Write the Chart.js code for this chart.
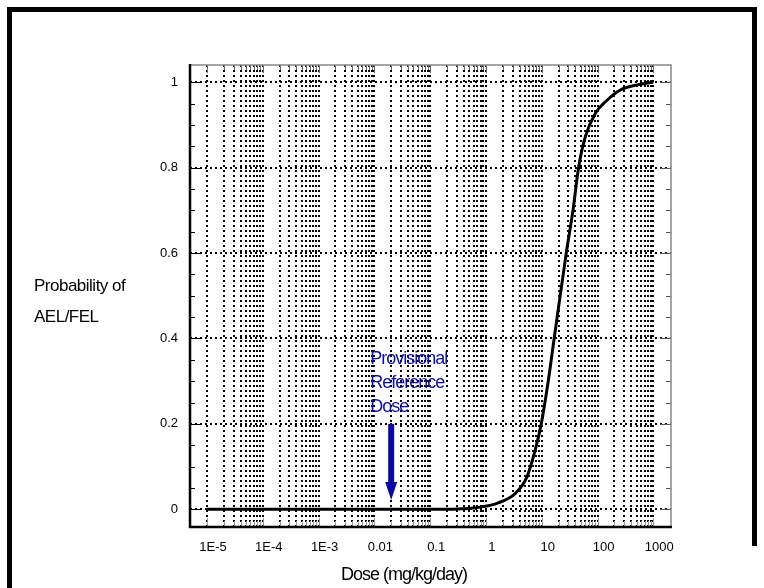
<!DOCTYPE html>
<html lang="en">
<head>
<meta charset="UTF-8">
<title>Probability of AEL/FEL vs Dose</title>
<script src="https://cdn.jsdelivr.net/npm/chart.js@4"></script>
<style>
  html, body { margin: 0; padding: 0; background: #fff; }
  canvas { display: block; }
</style>
</head>
<body>
<canvas id="doseChart" width="764" height="588"></canvas>
<script>
// dose-response curve
const doses = [1e-5, 1e-3, 0.1, 0.5, 0.79, 1.57, 3.35, 5.43, 7.64, 9.8, 12.9, 16.7, 27.5, 36.3, 45.7, 60.3, 91, 148, 257, 513, 1000];
const probs = [0, 0, 0, 0.002, 0.005, 0.014, 0.037, 0.076, 0.139, 0.2, 0.295, 0.4, 0.6, 0.7, 0.8, 0.872, 0.927, 0.958, 0.982, 0.994, 1.0];

// axes
const decadeValues = [1e-5, 1e-4, 1e-3, 0.01, 0.1, 1, 10, 100, 1000];
const decadeLabels = ['1E-5', '1E-4', '1E-3', '0.01', '0.1', '1', '10', '100', '1000'];
const yTicks = [0, 0.2, 0.4, 0.6, 0.8, 1];
const yTickLabels = ['0', '0.2', '0.4', '0.6', '0.8', '1'];
const yMinorTicks = [0.05, 0.1, 0.15, 0.25, 0.3, 0.35, 0.45, 0.5, 0.55, 0.65, 0.7, 0.75, 0.85, 0.9, 0.95];

// provisional reference dose marker
const rfdDose = 0.02;
const rfdArrowTop = 0.2;
const rfdArrowHead = 0.064;
const rfdArrowTip = 0.022;
const rfdText = ['Provisional', 'Reference', 'Dose'];

const FONT = '"Liberation Sans", Arial, sans-serif';

// grid lines at 1..9 of every decade
const xGridValues = [];
for (let k = 0; k < decadeValues.length; k++) {
    const d = decadeValues[k];
    xGridValues.push(d);
    if (k < decadeValues.length - 1) {
        for (let m = 2; m <= 9; m++) xGridValues.push(m * d);
    }
}

function isDecade(v) {
    return decadeValues.findIndex(d => Math.abs(Math.log10(v) - Math.log10(d)) < 1e-6);
}

const decorations = {
    id: 'decorations',
    afterDraw(chart) {
        const { ctx, chartArea: a, scales: { x, y } } = chart;
        ctx.save();

        // inward tick marks
        ctx.lineWidth = 1;
        xGridValues.forEach(v => {
            const px = Math.round(x.getPixelForValue(v)) + 0.5;
            const major = isDecade(v) >= 0;
            ctx.strokeStyle = '#666';
            ctx.beginPath();
            ctx.moveTo(px, a.top);
            ctx.lineTo(px, a.top + (major ? 8 : 5));
            ctx.stroke();
            ctx.strokeStyle = '#999';
            ctx.beginPath();
            ctx.moveTo(px, a.bottom);
            ctx.lineTo(px, a.bottom - (major ? 9 : 6));
            ctx.stroke();
        });
        yTicks.concat(yMinorTicks).forEach(v => {
            const py = Math.round(y.getPixelForValue(v)) + 0.5;
            const major = yTicks.includes(v);
            ctx.strokeStyle = '#000';
            ctx.beginPath();
            ctx.moveTo(a.left, py);
            ctx.lineTo(a.left + (major ? 10 : 5), py);
            ctx.stroke();
            ctx.strokeStyle = '#555';
            ctx.beginPath();
            ctx.moveTo(a.right, py);
            ctx.lineTo(a.right - (major ? 11 : 5), py);
            ctx.stroke();
        });

        // plot frame: thin grey top/right, heavy black left/bottom
        ctx.strokeStyle = '#888';
        ctx.lineWidth = 1.5;
        ctx.beginPath();
        ctx.moveTo(a.left, a.top);
        ctx.lineTo(a.right, a.top);
        ctx.lineTo(a.right, a.bottom);
        ctx.stroke();
        ctx.strokeStyle = '#000';
        ctx.lineWidth = 2.5;
        ctx.beginPath();
        ctx.moveTo(a.left, a.top - 1);
        ctx.lineTo(a.left, a.bottom);
        ctx.lineTo(a.right + 1, a.bottom);
        ctx.stroke();

        // arrow
        const ax = x.getPixelForValue(rfdDose);
        const yTop = y.getPixelForValue(rfdArrowTop);
        const yHead = y.getPixelForValue(rfdArrowHead);
        const yTip = y.getPixelForValue(rfdArrowTip);
        ctx.fillStyle = '#0a0aa0';
        ctx.fillRect(ax - 3, yTop, 6, yHead - yTop);
        ctx.beginPath();
        ctx.moveTo(ax - 6, yHead);
        ctx.lineTo(ax + 6, yHead);
        ctx.lineTo(ax, yTip);
        ctx.closePath();
        ctx.fill();

        ctx.fillStyle = '#0c0cb4';
        ctx.font = '18px ' + FONT;
        ctx.letterSpacing = '-1px';
        ctx.textAlign = 'left';
        ctx.textBaseline = 'alphabetic';
        rfdText.forEach((t, i) => ctx.fillText(t, ax - 21, yTop - 60 + i * 24));

        // axis titles
        ctx.fillStyle = '#000';
        ctx.font = '17px ' + FONT;
        ctx.letterSpacing = '-0.5px';
        ctx.fillText('Probability of', 34, 291);
        ctx.fillText('AEL/FEL', 34, 322);

        ctx.font = '18px ' + FONT;
        ctx.letterSpacing = '-1px';
        ctx.textAlign = 'center';
        ctx.fillText('Dose (mg/kg/day)', 404, 580);

        // outer border of the figure
        ctx.letterSpacing = '0px';
        ctx.fillStyle = '#000';
        ctx.fillRect(7, 7, 5, 581);
        ctx.fillRect(7, 7, 750, 5);
        ctx.fillRect(752, 7, 5, 539);

        ctx.restore();
    }
};

const ctx = document.getElementById('doseChart').getContext('2d');
const doseChart = new Chart(ctx, {
    type: 'line',
    data: {
        datasets: [{
            data: doses.map((d, i) => ({ x: d, y: probs[i] })),
            borderColor: '#000',
            borderWidth: 3,
            pointRadius: 0,
            cubicInterpolationMode: 'monotone',
            fill: false
        }]
    },
    options: {
        responsive: false,
        animation: false,
        devicePixelRatio: 1,
        layout: { padding: { left: 0, top: 65, right: 93, bottom: 0 } },
        plugins: {
            legend: { display: false },
            tooltip: { enabled: false }
        },
        scales: {
            x: {
                type: 'logarithmic',
                min: 4.95e-6,
                max: 2075,
                afterBuildTicks: s => { s.ticks = xGridValues.map(v => ({ value: v })); },
                afterFit: s => { s.height = 61; },
                ticks: {
                    autoSkip: false,
                    maxRotation: 0,
                    padding: 13,
                    labelOffset: 6,
                    color: '#000',
                    font: { family: FONT, size: 13 },
                    callback: v => {
                        const k = isDecade(v);
                        return k >= 0 ? decadeLabels[k] : '';
                    }
                },
                grid: { color: '#000', lineWidth: 2, drawTicks: false },
                border: { display: false, dash: [2, 3] }
            },
            y: {
                min: -0.0415,
                max: 1.0405,
                afterBuildTicks: s => { s.ticks = yTicks.map(v => ({ value: v })); },
                afterFit: s => { s.width = 190; },
                ticks: {
                    padding: 12,
                    color: '#000',
                    font: { family: FONT, size: 13 },
                    callback: (v, i) => yTickLabels[i]
                },
                grid: { color: '#000', lineWidth: 2, drawTicks: false },
                border: { display: false, dash: [2, 3] }
            }
        }
    },
    plugins: [decorations]
});
</script>
</body>
</html>
